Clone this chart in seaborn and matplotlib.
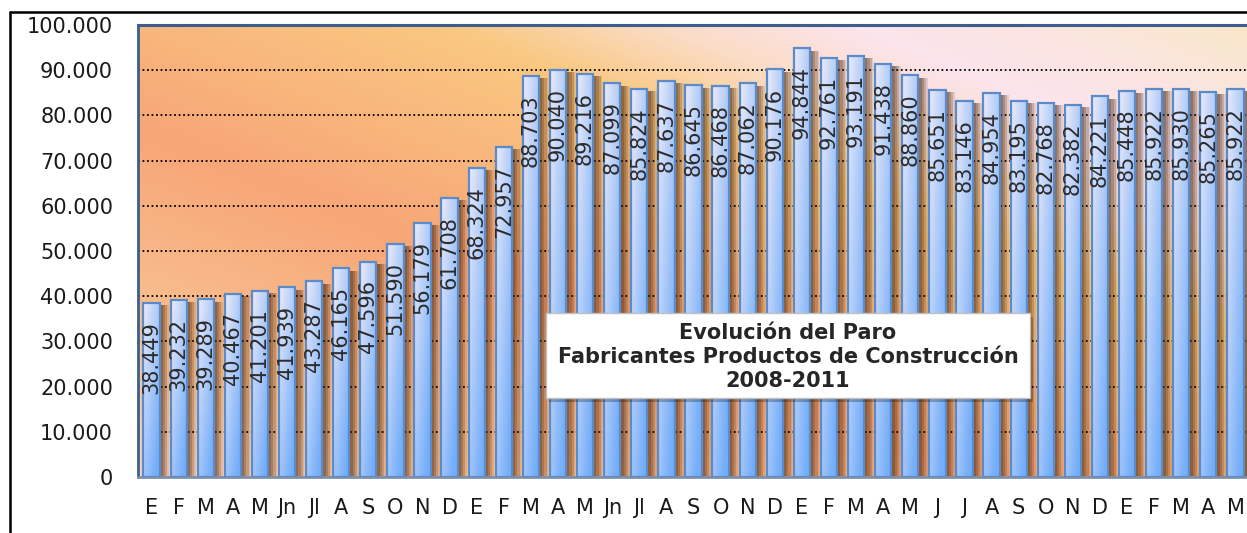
import numpy as np
import pandas as pd
import matplotlib
matplotlib.use("Agg")
import matplotlib.pyplot as plt
import seaborn as sns
from matplotlib.lines import Line2D
from matplotlib.patches import Rectangle
from matplotlib.colors import to_rgb

# monthly unemployment, building-products manufacturers, Jan 2008 - May 2011
months = ["E", "F", "M", "A", "M", "Jn", "Jl", "A", "S", "O", "N", "D",
          "E", "F", "M", "A", "M", "Jn", "Jl", "A", "S", "O", "N", "D",
          "E", "F", "M", "A", "M", "J", "J", "A", "S", "O", "N", "D",
          "E", "F", "M", "A", "M"]
paro = [38449, 39232, 39289, 40467, 41201, 41939, 43287, 46165, 47596, 51590, 56179, 61708,
        68324, 72957, 88703, 90040, 89216, 87099, 85824, 87637, 86645, 86468, 87062, 90176,
        94844, 92761, 93191, 91438, 88860, 85651, 83146, 84954, 83195, 82768, 82382, 84221,
        85448, 85922, 85930, 85265, 85922]
title_lines = ["Evolución del Paro", "Fabricantes Productos de Construcción", "2008-2011"]

df = pd.DataFrame({"idx": range(len(paro)), "paro": paro})
n = len(paro)

sns.set_style("white")
plt.rcParams["font.family"] = ["DejaVu Sans"]

W, H = 1247, 533
fig = plt.figure(figsize=(W / 100, H / 100), dpi=100)
ax = fig.add_axes([138 / W, 56 / H, 1111 / W, 452 / H])

# ---- background gradient (diagonal, in pixel space) ----
gx, gy = np.meshgrid(np.arange(138, 1249), np.arange(25, 477))
s = 0.37 * gx - 0.93 * gy
stops = [(-400, "#fbd6c6"), (-260, "#f9c292"), (-70, "#f7a677"), (60, "#f9bb7e"),
         (140, "#f9c880"), (220, "#fbdcc6"), (290, "#fce4ec"), (360, "#fbe5e0"),
         (440, "#f9e7c8")]
sv = [p for p, _ in stops]
bg = np.zeros(s.shape + (3,))
for ch in range(3):
    bg[..., ch] = np.interp(s, sv, [to_rgb(c)[ch] for _, c in stops])
ax.imshow(bg, extent=(-0.5, n - 0.5, 0, 100000), aspect="auto", origin="upper", zorder=0)

# ---- bars ----
sns.barplot(data=df, x="idx", y="paro", width=0.6, color="#9cc8f4",
            edgecolor="#5b8bc8", linewidth=1.6, ax=ax, zorder=3)
bars = list(ax.patches)

# soft brownish shadow to the right of each bar
for off, a in [(0.12, 0.22), (0.20, 0.2), (0.28, 0.18), (0.34, 0.12)]:
    ax.bar(np.arange(n) + off, np.array(paro) - 500, width=0.6, color="#3a1a05",
           alpha=a, linewidth=0, zorder=2)

light = np.array(to_rgb("#eceaf8"))
blue = np.array(to_rgb("#74aefa"))
u = np.linspace(0, 1, 24)[None, :]
for b in bars:
    x0, y0, w, h = b.get_x(), b.get_y(), b.get_width(), b.get_height()
    v = np.linspace(0, 1, 60)[:, None]
    t = np.clip(0.55 * u + 0.6 * v, 0, 1)[..., None]
    img = light * (1 - t) + blue * t
    im = ax.imshow(img, extent=(x0, x0 + w, y0, y0 + h), aspect="auto",
                   origin="upper", zorder=3)
    im.set_clip_path(b)
    b.set_facecolor("none")
    b.set_zorder(4)

# value labels
for i, v in enumerate(paro):
    ax.annotate(f"{v / 1000:.3f}", (i, v), xytext=(0, -13), textcoords="offset points",
                rotation=90, ha="center", va="top", fontsize=15, color="#2b2b2b", zorder=5)

ax.set_xlim(-0.5, n - 0.5)
ax.set_ylim(0, 100000)
ax.set_yticks(range(0, 100001, 10000))
ax.set_yticklabels([f"{t:,}".replace(",", ".") for t in range(0, 100001, 10000)])
ax.set_xticks(range(n))
ax.set_xticklabels(months)
ax.set_xlabel("")
ax.set_ylabel("")
ax.tick_params(axis="both", length=0, labelsize=15, colors="#1a1a1a")
ax.tick_params(axis="y", pad=18)
ax.tick_params(axis="x", pad=15)

for y in range(10000, 100000, 10000):
    ax.axhline(y, color="black", linestyle=(0, (1, 1.5)), linewidth=1.3, zorder=1)

ax.spines["right"].set_visible(False)
ax.spines["left"].set_color("#3b5e8c")
ax.spines["left"].set_linewidth(2)
ax.spines["top"].set_color("#3b5e8c")
ax.spines["top"].set_linewidth(2.2)
ax.spines["top"].set_linestyle((0, (2, 0.6)))
ax.spines["bottom"].set_color("#8090a8")
ax.spines["bottom"].set_linewidth(2)

# title box with drop shadow
bx0, by0, bw, bh = 0.367, 0.175, 0.436, 0.188
ax.add_patch(Rectangle((bx0 + 0.003, by0 - 0.008), bw, bh, transform=ax.transAxes,
                       facecolor="black", alpha=0.25, linewidth=0, zorder=6))
ax.add_patch(Rectangle((bx0, by0), bw, bh, transform=ax.transAxes,
                       facecolor="white", edgecolor="#c0c0c0", linewidth=1, zorder=6))
ax.text(bx0 + bw / 2, 0.266, "\n".join(title_lines), transform=ax.transAxes, ha="center",
        va="center", fontsize=15, fontweight="bold", linespacing=1.25, zorder=7)

# outer frame
fig.add_artist(Line2D([10 / W, 10 / W], [0, 1 - 12 / H], color="black", lw=1.8))
fig.add_artist(Line2D([10 / W, 1], [1 - 12 / H, 1 - 12 / H], color="black", lw=1.8))

fig.savefig("out.png", dpi=100)
